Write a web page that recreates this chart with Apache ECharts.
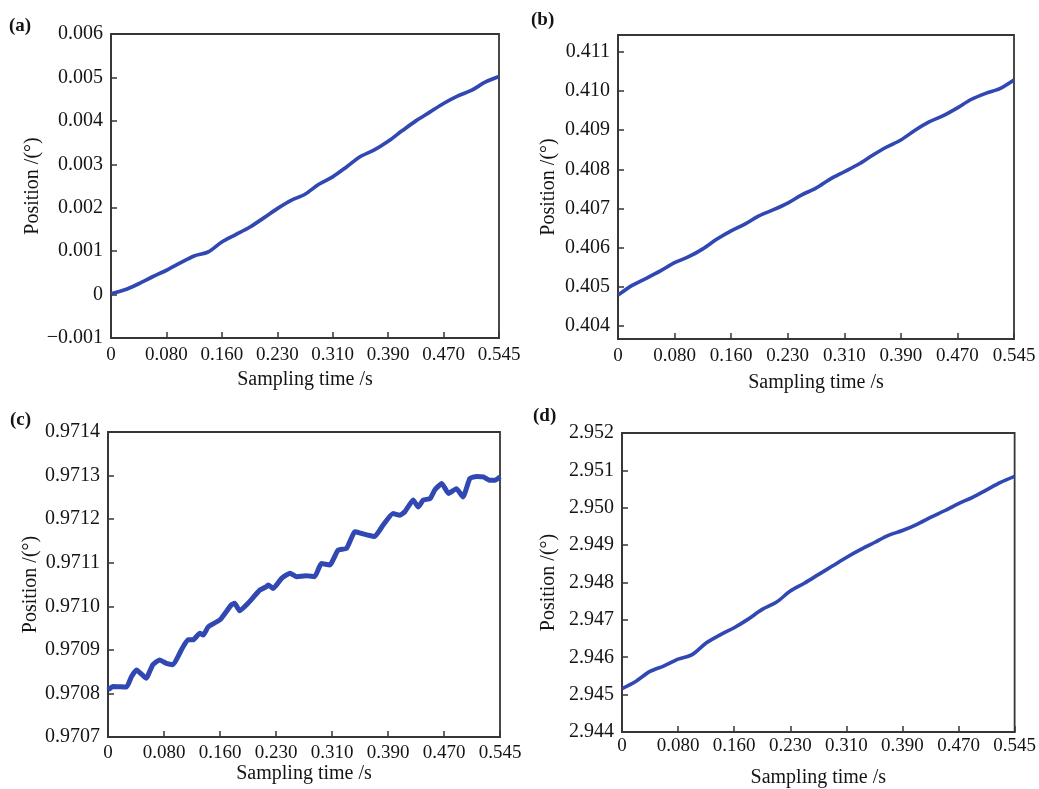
<!DOCTYPE html>
<html>
<head>
<meta charset="utf-8">
<script src="https://cdn.jsdelivr.net/npm/echarts@6/dist/echarts.min.js"></script>
<style>
  html, body { margin: 0; padding: 0; background: #fff; }
  #chart { width: 1039px; height: 789px; }
</style>
</head>
<body>
<div id="chart"></div>
<script>
// 横轴刻度（等间距显示）
var xTickLabels = ['0', '0.080', '0.160', '0.230', '0.310', '0.390', '0.470', '0.545']
var tEnd = 0.545

// (a)(b)(d) 共用采样时间 /s
var sampleTime = [0, 0.0195, 0.0389, 0.0584, 0.0779, 0.0973, 0.1168, 0.1363, 0.1557, 0.1752,
  0.1946, 0.2141, 0.2336, 0.2530, 0.2725, 0.2920, 0.3114, 0.3309, 0.3504, 0.3698,
  0.3893, 0.4088, 0.4282, 0.4477, 0.4671, 0.4866, 0.5061, 0.5255, 0.545]

// (a) 位置 /(°)
var posA = [0.00002, 0.00011, 0.00025, 0.00041, 0.00056, 0.00073, 0.00089, 0.00098, 0.00121, 0.00138,
  0.00155, 0.00176, 0.00198, 0.00217, 0.00231, 0.00254, 0.00271, 0.00294, 0.00318, 0.00333,
  0.00353, 0.00377, 0.00400, 0.00420, 0.00440, 0.00457, 0.00470, 0.00489, 0.00502]

// (b)
var posB = [0.40479, 0.40504, 0.40522, 0.40541, 0.40562, 0.40577, 0.40597, 0.40622, 0.40643, 0.40661,
  0.40682, 0.40697, 0.40714, 0.40735, 0.40752, 0.40775, 0.40794, 0.40813, 0.40836, 0.40857,
  0.40875, 0.40900, 0.40921, 0.40937, 0.40957, 0.40979, 0.40994, 0.41006, 0.41028]

// (d)
var posD = [2.94516, 2.94536, 2.94562, 2.94577, 2.94595, 2.94607, 2.94638, 2.94660, 2.94679, 2.94702,
  2.94728, 2.94747, 2.94777, 2.94798, 2.94821, 2.94844, 2.94867, 2.94888, 2.94907, 2.94926,
  2.94939, 2.94955, 2.94974, 2.94992, 2.95011, 2.95028, 2.95048, 2.95068, 2.95084]

// (c) 采样时间与位置
var timeC = [0, 0.0070, 0.0257, 0.0327, 0.0397, 0.0529, 0.0623, 0.0716, 0.0810, 0.0903,
  0.1020, 0.1113, 0.1183, 0.1277, 0.1324, 0.1394, 0.1557, 0.1713, 0.1760, 0.1830,
  0.1947, 0.2110, 0.2203, 0.2227, 0.2297, 0.2414, 0.2530, 0.2624, 0.2756, 0.2873,
  0.2966, 0.3083, 0.3200, 0.3317, 0.3434, 0.3527, 0.3620, 0.3706, 0.3823, 0.3963,
  0.4057, 0.4127, 0.4243, 0.4313, 0.4383, 0.4477, 0.4547, 0.4640, 0.4734, 0.4843,
  0.4936, 0.5030, 0.5123, 0.5217, 0.5310, 0.5380, 0.5450]
var posC = [0.970808, 0.970816, 0.970815, 0.970839, 0.970854, 0.970835, 0.970866, 0.970877, 0.970869, 0.970866,
  0.970900, 0.970923, 0.970923, 0.970938, 0.970934, 0.970953, 0.970969, 0.971003, 0.971007, 0.970990,
  0.971007, 0.971037, 0.971045, 0.971049, 0.971041, 0.971064, 0.971076, 0.971068, 0.971070, 0.971068,
  0.971098, 0.971095, 0.971129, 0.971133, 0.971171, 0.971167, 0.971163, 0.971160, 0.971186, 0.971213,
  0.971209, 0.971217, 0.971244, 0.971228, 0.971244, 0.971247, 0.971268, 0.971282, 0.971259, 0.971270,
  0.971251, 0.971293, 0.971298, 0.971297, 0.971289, 0.971289, 0.971297]

// 纵轴刻度
var yTicksA = [-0.001, 0, 0.001, 0.002, 0.003, 0.004, 0.005, 0.006]
var yTicksB = [0.404, 0.405, 0.406, 0.407, 0.408, 0.409, 0.410, 0.411]
var yTicksC = [0.9707, 0.9708, 0.9709, 0.9710, 0.9711, 0.9712, 0.9713, 0.9714]
var yTicksD = [2.944, 2.945, 2.946, 2.947, 2.948, 2.949, 2.950, 2.951, 2.952]

var panelNames = ['(a)', '(b)', '(c)', '(d)']

var font = 'Liberation Serif'
var frameColor = '#363636'
var lineColor = '#3148b2'
var textColor = '#141414'
var xTickPos = xTickLabels.map(function (s, i) { return i * tEnd / 7 })

function pairs(xs, ys) {
  return xs.map(function (x, i) { return [x, ys[i]] })
}

function makeX(idx, labelMargin, gap) {
  return {
    type: 'value', gridIndex: idx, min: 0, max: tEnd,
    name: 'Sampling time /s', nameLocation: 'middle', nameGap: gap,
    nameTextStyle: { fontFamily: font, fontSize: 20, color: textColor },
    axisLine: { show: true, onZero: false, lineStyle: { color: frameColor, width: 1.8 } },
    axisTick: { show: true, inside: true, length: 6, customValues: xTickPos, lineStyle: { color: frameColor, width: 1.5 } },
    axisLabel: {
      customValues: xTickPos, fontFamily: font, fontSize: 19, color: textColor, margin: labelMargin,
      formatter: function (v) { return xTickLabels[Math.round(v * 7 / tEnd)] }
    },
    splitLine: { show: false }
  }
}

function makeY(idx, ticks, min, max, digits, gap) {
  return {
    type: 'value', gridIndex: idx, min: min, max: max,
    name: 'Position /(°)', nameLocation: 'middle', nameGap: gap,
    nameTextStyle: { fontFamily: font, fontSize: 20, color: textColor },
    axisLine: { show: true, onZero: false, lineStyle: { color: frameColor, width: 1.8 } },
    axisTick: { show: true, inside: true, length: 6, customValues: ticks, lineStyle: { color: frameColor, width: 1.5 } },
    axisLabel: {
      customValues: ticks, fontFamily: font, fontSize: 20, color: textColor, margin: 8,
      formatter: function (v) {
        if (Math.abs(v) < 1e-12) return '0'
        return v.toFixed(digits).replace('-', '−')
      }
    },
    splitLine: { show: false }
  }
}

function makeLine(idx, data, width, smooth) {
  return {
    type: 'line', xAxisIndex: idx, yAxisIndex: idx, data: data,
    showSymbol: false, smooth: smooth,
    lineStyle: { color: lineColor, width: width }
  }
}

var gridBox = { show: true, borderColor: frameColor, borderWidth: 1.8 }
var labelFont = 'bold 19px "Liberation Serif"'
var chart = echarts.init(document.getElementById('chart'))
var option = {
  animation: false,
  backgroundColor: '#fff',
  grid: [
    Object.assign({ left: 111, top: 34, width: 388, height: 304 }, gridBox),
    Object.assign({ left: 618, top: 35, width: 396, height: 304 }, gridBox),
    Object.assign({ left: 108, top: 432, width: 392, height: 305 }, gridBox),
    Object.assign({ left: 622, top: 433, width: 393, height: 300 }, gridBox)
  ],
  xAxis: [makeX(0, 8, 32), makeX(1, 8, 34), makeX(2, 7, 26), makeX(3, 5, 36)],
  yAxis: [
    makeY(0, yTicksA, -0.001, 0.006, 3, 61),
    makeY(1, yTicksB, 0.40367, 0.41143, 3, 59),
    makeY(2, yTicksC, 0.9707, 0.9714, 4, 67),
    makeY(3, yTicksD, 2.944, 2.952, 3, 63)
  ],
  series: [
    makeLine(0, pairs(sampleTime, posA), 3.7, 0.3),
    makeLine(1, pairs(sampleTime, posB), 3.6, 0.3),
    makeLine(2, pairs(timeC, posC), 5, 0.15),
    makeLine(3, pairs(sampleTime, posD), 3.6, 0.3)
  ],
  graphic: [
    { type: 'text', left: 9, top: 17, style: { text: panelNames[0], font: labelFont, fill: textColor } },
    { type: 'text', left: 531, top: 11, style: { text: panelNames[1], font: labelFont, fill: textColor } },
    { type: 'text', left: 10, top: 411, style: { text: panelNames[2], font: labelFont, fill: textColor } },
    { type: 'text', left: 533, top: 407, style: { text: panelNames[3], font: labelFont, fill: textColor } }
  ]
}
chart.setOption(option)
</script>
</body>
</html>
